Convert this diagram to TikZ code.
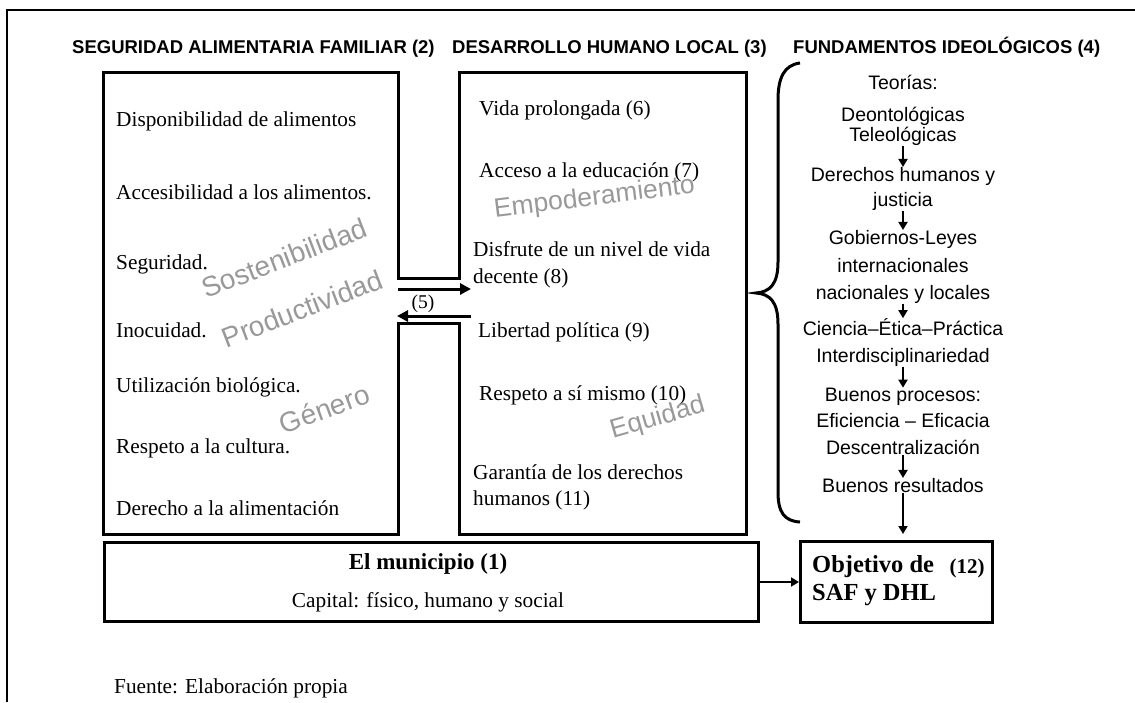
\documentclass[tikz,border=0pt]{standalone}
\usepackage{fontspec}
\setmainfont{Liberation Serif}
\newfontfamily\arialf{Liberation Sans}
\usetikzlibrary{arrows.meta}
\begin{document}
\begin{tikzpicture}[x=1pt,y=-1pt,
  frameline/.style={line width=1.5pt},
  outline/.style={draw,line width=3pt,line join=miter},
  boxnode/.style={draw,line width=3pt,inner sep=0pt,anchor=north west},
  ser/.style={font=\fontsize{21.3}{23}\selectfont,inner sep=0pt,anchor=mid west,yshift=-5pt},
  serb/.style={font=\bfseries\fontsize{23}{25}\selectfont,inner sep=0pt,yshift=-5pt},
  hdr/.style={font=\arialf\bfseries\fontsize{18.5}{20}\selectfont,inner sep=0pt,anchor=mid west,yshift=-4pt},
  rt/.style={font=\arialf\fontsize{19.5}{21}\selectfont,inner sep=0pt,anchor=mid,yshift=-5pt},
  wm/.style={font=\arialf\fontsize{28}{30}\selectfont,text=black!40,inner sep=0pt,anchor=mid},
  darr/.style={line width=1.8pt,-{Triangle[length=8pt,width=9pt]}},
  barr/.style={line width=3pt,-{Triangle[length=11pt,width=11pt]}}
]
\useasboundingbox (0,0) rectangle (1135,702);
% page frame
\draw[frameline] (1135,10) -- (7,10) -- (7,702);

% headers
\node[hdr] (h2) at (72,47) {SEGURIDAD ALIMENTARIA FAMILIAR (2)};
\node[hdr] (h3) at (452,47) {DESARROLLO HUMANO LOCAL (3)};
\node[hdr] (h4) at (793,47) {FUNDAMENTOS IDEOLÓGICOS (4)};

% combined outline of the two boxes
\draw[outline] (103,72) -- (398,72) -- (398,278) -- (459,278) -- (459,72)
  -- (746,72) -- (746,534) -- (459,534) -- (459,323) -- (398,323)
  -- (398,534) -- (103,534) -- cycle;

% left box texts
\node[ser] (s1) at (116,119) {Disponibilidad de alimentos};
\node[ser] (s2) at (116,192) {Accesibilidad a los alimentos.};
\node[ser] (s3) at (116,262) {Seguridad.};
\node[ser] (s4) at (116,330) {Inocuidad.};
\node[ser] (s5) at (116,385) {Utilización biológica.};
\node[ser] (s6) at (116,446) {Respeto a la cultura.};
\node[ser] (s7) at (116,508) {Derecho a la alimentación};

% middle box texts
\node[ser] (d6) at (479,108) {Vida prolongada (6)};
\node[ser] (d7) at (479,170) {Acceso a la educación (7)};
\node[ser] (d8a) at (473,249) {Disfrute de un nivel de vida};
\node[ser] (d8b) at (473,276) {decente (8)};
\node[ser] (d9) at (478,330) {Libertad política (9)};
\node[ser] (d10) at (479,393) {Respeto a sí mismo (10)};
\node[ser] (d11a) at (473,472) {Garantía de los derechos};
\node[ser] (d11b) at (473,498) {humanos (11)};

% watermark words
\node[wm,rotate=21] (w1) at (287,265) {Sostenibilidad};
\node[wm,rotate=21] (w2) at (305,316) {Productividad};
\node[wm,rotate=20] (w3) at (327,416) {Género};
\node[wm,rotate=7,font=\arialf\fontsize{26.5}{28}\selectfont] (w4) at (595,203) {Empoderamiento};
\node[wm,rotate=16,font=\arialf\fontsize{26.5}{28}\selectfont] (w5) at (659,423) {Equidad};

% exchange arrows (5)
\coordinate (e1) at (398,289);
\coordinate (e2) at (471,289);
\coordinate (e3) at (471,316);
\coordinate (e4) at (397,316);
\draw[barr] (e1) -- (e2);
\draw[barr] (e3) -- (e4);
\node[font=\fontsize{19.5}{20}\selectfont,inner sep=0pt,anchor=mid,yshift=-4pt] (five) at (423,302) {(5)};

% brace
\draw[line width=3pt] (800,63) .. controls (784,65) and (778,78) .. (778,100)
  -- (778,262) .. controls (778,284) and (770,292) .. (756,293)
  .. controls (770,294) and (778,302) .. (778,324)
  -- (778,492) .. controls (778,512) and (784,521) .. (800,522);

% right column
\node[rt] (t1) at (903,82) {Teorías:};
\node[rt] (t2) at (903,114) {Deontológicas};
\node[rt] (t3) at (903,134) {Teleológicas};
\node[rt] (t4) at (903,174) {Derechos humanos y};
\node[rt] (t5) at (903,199) {justicia};
\node[rt] (t6) at (903,237) {Gobiernos-Leyes};
\node[rt] (t7) at (903,265) {internacionales};
\node[rt] (t8) at (903,292) {nacionales y locales};
\node[rt] (t9) at (903,328) {Ciencia–Ética–Práctica};
\node[rt] (t10) at (903,355) {Interdisciplinariedad};
\node[rt] (t11) at (903,394) {Buenos procesos:};
\node[rt] (t12) at (903,420) {Eficiencia – Eficacia};
\node[rt] (t13) at (903,447) {Descentralización};
\node[rt] (t14) at (903,485) {Buenos resultados};

\draw[darr] (t3.south) -- (t4.north);
\draw[darr] (t5.south) -- (t6.north);
\draw[darr] (t8.south) -- (t9.north);
\draw[darr] (t10.south) -- (t11.north);
\draw[darr] (t13.south) -- (t14.north);

% bottom boxes
\node[boxnode,minimum width=654pt,minimum height=79pt] (mun) at (103,541) {};
\node[serb,anchor=mid] (mun1) at (428,562) {El municipio (1)};
\node[ser,anchor=mid] (mun2) at (428,600) {Capital: físico, humano y social};

\node[boxnode,minimum width=192pt,minimum height=81pt] (obj) at (799,540) {};
\node[serb,anchor=mid west,font=\bfseries\fontsize{24.5}{26}\selectfont] (obj1) at (812,565) {Objetivo de};
\node[serb,anchor=mid west,font=\bfseries\fontsize{24.5}{26}\selectfont] (obj2) at (812,593) {SAF y DHL};
\node[serb,anchor=mid,font=\bfseries\fontsize{21}{22}\selectfont] (obj3) at (967,566) {(12)};

\draw[darr] (mun.east) -- (obj.west);
\draw[darr,shorten >=6pt] (t14.south) -- (t14.south |- obj.north);

% source
\node[ser] (src) at (114,686) {Fuente: Elaboración propia};
\end{tikzpicture}
\end{document}
